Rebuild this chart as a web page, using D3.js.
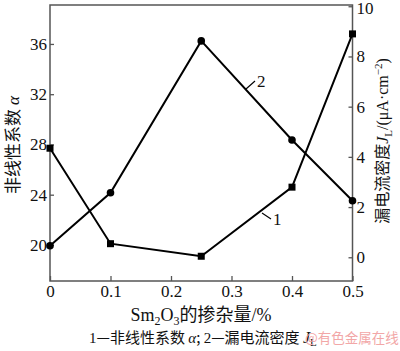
<!DOCTYPE html>
<html>
<head>
<meta charset="utf-8">
<script src="https://cdn.jsdelivr.net/npm/d3@7"></script>
<style>
  body { margin: 0; background: #fff; }
  text { font-family: "Liberation Serif", "Times New Roman", serif; }
  .cjk { font-family: "Noto Sans CJK SC", sans-serif; }
</style>
</head>
<body>
<svg id="chart" width="400" height="351"></svg>
<script>
// Sm2O3 doping (%) vs nonlinear coefficient alpha and leakage current density JL
let doping = [0, 0.1, 0.25, 0.4, 0.5];
let alpha = [27.7, 20.1, 19.1, 24.6, 36.8];      // curve 1, left axis
let leakage = [0.46, 2.57, 8.62, 4.67, 2.25];   // curve 2, right axis
let xTicks = [0, 0.1, 0.2, 0.3, 0.4, 0.5];
let leftTicks = [20, 24, 28, 32, 36];
let rightTicks = [0, 2, 4, 6, 8, 10];

let svg = d3.select('#chart');

let box = { left: 50, right: 352.5, top: 5, bottom: 281 };

let x = d3.scaleLinear().domain([0, 0.5]).range([box.left, box.right]);
let yL = d3.scaleLinear().domain([17.13, 39.1]).range([box.bottom, box.top]);
let yR = d3.scaleLinear().domain([-0.945, 10.05]).range([box.bottom, box.top]);

let axisColor = '#555';

// frame
svg.append('rect')
    .attr('x', box.left).attr('y', box.top)
    .attr('width', box.right - box.left).attr('height', box.bottom - box.top)
    .attr('fill', 'none').attr('stroke', axisColor).attr('stroke-width', 1.5);

let styleAxis = function(g) {
    g.select('.domain').remove();
    g.selectAll('.tick line').attr('stroke', axisColor).attr('stroke-width', 1.3);
    g.selectAll('.tick text')
        .attr('fill', '#111')
        .style('font-family', '"Liberation Serif", serif')
        .style('font-size', '17px');
};

svg.append('g')
    .attr('transform', `translate(0,${box.bottom})`)
    .call(d3.axisBottom(x).tickValues(xTicks).tickSize(-5).tickPadding(4)
        .tickFormat(d => d === 0 ? '0' : d3.format('.1f')(d)))
    .call(styleAxis);

svg.append('g')
    .attr('transform', `translate(${box.left},0)`)
    .call(d3.axisLeft(yL).tickValues(leftTicks).tickSize(-4).tickPadding(3))
    .call(styleAxis);

svg.append('g')
    .attr('transform', `translate(${box.right},0)`)
    .call(d3.axisRight(yR).tickValues(rightTicks).tickSize(-4).tickPadding(4))
    .call(styleAxis)
    .call(g => g.selectAll('.tick text').filter(d => d === 10).attr('dy', '0.42em'));

// curves
let line1 = d3.line().x((d, i) => x(doping[i])).y(d => yL(d));
let line2 = d3.line().x((d, i) => x(doping[i])).y(d => yR(d));

svg.append('path').datum(alpha)
    .attr('d', line1).attr('fill', 'none').attr('stroke', '#000').attr('stroke-width', 2);
svg.append('path').datum(leakage)
    .attr('d', line2).attr('fill', 'none').attr('stroke', '#000').attr('stroke-width', 2);

svg.append('g').selectAll('rect').data(alpha).enter()
    .append('rect')
        .attr('x', (d, i) => x(doping[i]) - 3.5)
        .attr('y', d => yL(d) - 3.5)
        .attr('width', 7).attr('height', 7)
        .attr('fill', '#000');

svg.append('g').selectAll('circle').data(leakage).enter()
    .append('circle')
        .attr('cx', (d, i) => x(doping[i]))
        .attr('cy', d => yR(d))
        .attr('r', 3.8)
        .attr('fill', '#000');

// curve labels with leader lines
let leader = function(x1, y1, x2, y2, tx, ty, txt) {
    svg.append('line').attr('x1', x1).attr('y1', y1).attr('x2', x2).attr('y2', y2)
        .attr('stroke', '#000').attr('stroke-width', 1.2);
    svg.append('text').attr('x', tx).attr('y', ty).text(txt)
        .style('font-size', '17px').attr('fill', '#111');
};
leader(246, 89, 255, 81, 257, 87, '2');
leader(262, 213, 271, 219, 273, 225, '1');

// left title
svg.append('text')
    .attr('transform', 'translate(19,145) rotate(-90)')
    .attr('text-anchor', 'middle')
    .style('font-size', '17px').attr('fill', '#111')
    .call(t => {
        t.append('tspan').attr('class', 'cjk').text('非线性系数 ');
        t.append('tspan').style('font-style', 'italic').text('α');
    });

// right title
svg.append('text')
    .attr('transform', 'translate(388,141) rotate(-90)')
    .attr('text-anchor', 'middle')
    .style('font-size', '16px').attr('fill', '#111')
    .call(t => {
        t.append('tspan').attr('class', 'cjk').text('漏电流密度');
        t.append('tspan').style('font-style', 'italic').text('J');
        t.append('tspan').attr('dy', 4).style('font-size', '11px').text('L');
        t.append('tspan').attr('dy', -4).text('/(μA·cm');
        t.append('tspan').attr('dy', -6).style('font-size', '11px').text('−2');
        t.append('tspan').attr('dy', 6).text(')');
    });

// x title
svg.append('text')
    .attr('x', 201).attr('y', 321)
    .attr('text-anchor', 'middle')
    .style('font-size', '18px').attr('fill', '#111')
    .call(t => {
        t.append('tspan').text('Sm');
        t.append('tspan').attr('dy', 4).style('font-size', '12px').text('2');
        t.append('tspan').attr('dy', -4).text('O');
        t.append('tspan').attr('dy', 4).style('font-size', '12px').text('3');
        t.append('tspan').attr('dy', -4).attr('class', 'cjk').text('的掺杂量');
        t.append('tspan').text('/%');
    });

// caption
svg.append('text')
    .attr('x', 89).attr('y', 343)
    .style('font-size', '15px').attr('fill', '#111')
    .call(t => {
        t.append('tspan').text('1');
        t.append('tspan').attr('class', 'cjk').text('—非线性系数 ');
        t.append('tspan').style('font-style', 'italic').text('α');
        t.append('tspan').attr('class', 'cjk').text('; ');
        t.append('tspan').text('2');
        t.append('tspan').attr('class', 'cjk').text('—漏电流密度 ');
        t.append('tspan').style('font-style', 'italic').style('font-size', '16px').text('J');
        t.append('tspan').attr('dy', 3).style('font-size', '11px').text('L');
    });

// watermark
svg.append('text')
    .attr('x', 305).attr('y', 343)
    .attr('class', 'cjk')
    .style('font-size', '13.5px').attr('fill', '#f2a7a7')
    .text('@有色金属在线');
</script>
</body>
</html>
